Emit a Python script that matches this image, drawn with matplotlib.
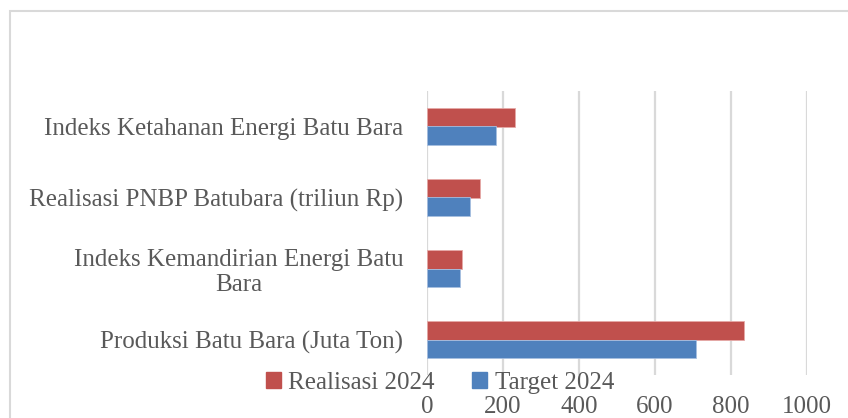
import matplotlib
matplotlib.use('agg')
import matplotlib.pyplot as plt
import matplotlib.patches as mpatches
import numpy as np

# data
categories = ["Produksi Batu Bara (Juta Ton)",
              "Indeks Kemandirian Energi Batu\nBara",
              "Realisasi PNBP Batubara (triliun Rp)",
              "Indeks Ketahanan Energi Batu Bara"]
realisasi_2024 = [834, 92, 139, 232]
target_2024 = [709, 87, 112, 181]
x_ticks = [0, 200, 400, 600, 800, 1000]

red = "#C0504D"
blue = "#4F81BD"
txt = "#595959"
grid = "#D9D9D9"

plt.rcParams['font.family'] = ['Liberation Serif', 'DejaVu Serif']

fig = plt.figure(figsize=(8.48, 4.18), dpi=100)
W, H = 848.0, 418.0
ax = fig.add_axes([427 / W, 1 - 375 / H, (807 - 427) / W, (375 - 91) / H])

# chart-area border, runs off the right/bottom edge like the source crop
fig.patches.append(mpatches.Rectangle((10 / W, -0.1), 1.2, 1.1 - 11 / H,
                                      transform=fig.transFigure, fill=False,
                                      edgecolor=grid, linewidth=1.5))

y = np.arange(len(categories))
h = 0.258
ax.barh(y + h / 2, realisasi_2024, height=h, color=red, edgecolor="#E6A9A7",
        linewidth=0.6, label="Realisasi 2024", zorder=3)
ax.barh(y - h / 2, target_2024, height=h, color=blue, edgecolor="#A7BFE0",
        linewidth=0.6, label="Target 2024", zorder=3)

ax.set_xlim(0, 1000)
ax.set_ylim(-0.5, len(categories) - 0.5)
ax.set_xticks(x_ticks)
ax.set_xticklabels([str(v) for v in x_ticks])
ax.set_yticks(y)
ax.set_yticklabels(categories)
for lab in ax.get_yticklabels():
    lab.set_multialignment('center')
    lab.set_linespacing(1.15)

ax.grid(axis='x', color=grid, linewidth=1.6, zorder=0)
for s in ax.spines.values():
    s.set_visible(False)
ax.tick_params(axis='both', length=0, colors=txt)
ax.tick_params(axis='x', labelsize=18, pad=15)
ax.tick_params(axis='y', labelsize=18, pad=17)

handles = [mpatches.Patch(color=red, label="Realisasi 2024"),
           mpatches.Patch(color=blue, label="Target 2024")]
fig.legend(handles=handles, loc='center', bbox_to_anchor=(440 / W, 1 - 383 / H),
           ncol=2, frameon=False, fontsize=18, labelcolor=txt,
           handlelength=0.6, handleheight=0.6, handletextpad=0.3,
           columnspacing=1.5, borderpad=0)

fig.savefig("out.png", dpi=100)
